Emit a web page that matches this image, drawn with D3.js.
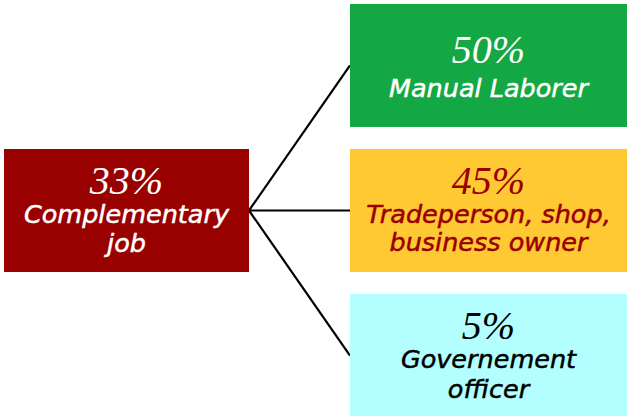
<!DOCTYPE html>
<html>
   <head>
      <script src="https://d3js.org/d3.v7.min.js"></script>
      <title> Jobs </title>
      <style>
          body { margin: 0; background: #fff; }
          .pct { font-family: "Liberation Serif", serif; font-style: italic; }
          .lbl { font-family: "DejaVu Sans", sans-serif; font-style: italic; }
      </style>
   </head>
   <body>
      <script>
            var width = 627, height = 416;

            // source node
            var rootPct = "33%";
            var rootLabel = ["Complementary", "job"];
            var rootFill = "#990000", rootText = "#ffffff";

            // target nodes
            var categories = ["Manual Laborer", "Tradeperson", "Governement officer"];
            var percents = ["50%", "45%", "5%"];
            var labels = [["Manual Laborer"], ["Tradeperson, shop,", "business owner"], ["Governement", "officer"]];
            var fills = ["#13a843", "#fec933", "#b3ffff"];
            var textColors = ["#ffffff", "#990000", "#000000"];

            var svg = d3.select("body")
                .append("svg")
                .attr("width", width)
                .attr("height", height);

            var y = d3.scaleBand()
                .domain(categories)
                .range([4, 417])
                .paddingInner(0.152)
                .paddingOuter(0);

            var leftX = 4, leftW = 245;
            var rightX = 350, rightW = 277;
            var rootY = y(categories[1]);

            // connectors (drawn first, under boxes)
            svg.selectAll("line.link")
                .data(categories)
                .enter()
                .append("line")
                .attr("class", "link")
                .attr("x1", leftX + leftW)
                .attr("y1", rootY + y.bandwidth() / 2)
                .attr("x2", rightX)
                .attr("y2", function(d) { return y(d) + y.bandwidth() / 2; })
                .attr("stroke", "#000")
                .attr("stroke-width", 2.2);

            function drawNode(g, fill, color, pct, lines, lineGap) {
                var w = +g.attr("data-w"), h = y.bandwidth();
                g.append("rect")
                    .attr("width", w)
                    .attr("height", h)
                    .attr("fill", fill);
                var n = lines.length;
                var top = n == 1 ? 59 : 45;   // baseline of percentage
                var first = n == 1 ? 34 : 29;
                g.append("text")
                    .attr("class", "pct")
                    .attr("x", w / 2)
                    .attr("y", top)
                    .attr("text-anchor", "middle")
                    .attr("font-size", 40)
                    .attr("fill", color)
                    .text(pct);
                lines.forEach(function(t, i) {
                    g.append("text")
                        .attr("class", "lbl")
                        .attr("x", w / 2)
                        .attr("y", top + first + i * lineGap)
                        .attr("text-anchor", "middle")
                        .attr("font-size", 25.5)
                        .attr("fill", color)
                        .attr("stroke", color)
                        .attr("stroke-width", 0.5)
                        .text(t);
                });
            }

            var root = svg.append("g")
                .attr("transform", "translate(" + leftX + "," + rootY + ")")
                .attr("data-w", leftW);
            drawNode(root, rootFill, rootText, rootPct, rootLabel, 29);

            svg.selectAll("g.node")
                .data(categories)
                .enter()
                .append("g")
                .attr("class", "node")
                .attr("data-w", rightW)
                .attr("transform", function(d) { return "translate(" + rightX + "," + y(d) + ")"; })
                .each(function(d, i) {
                    drawNode(d3.select(this), fills[i], textColors[i], percents[i], labels[i], i == 1 ? 28 : 30);
                });
      </script>
   </body>
</html>
